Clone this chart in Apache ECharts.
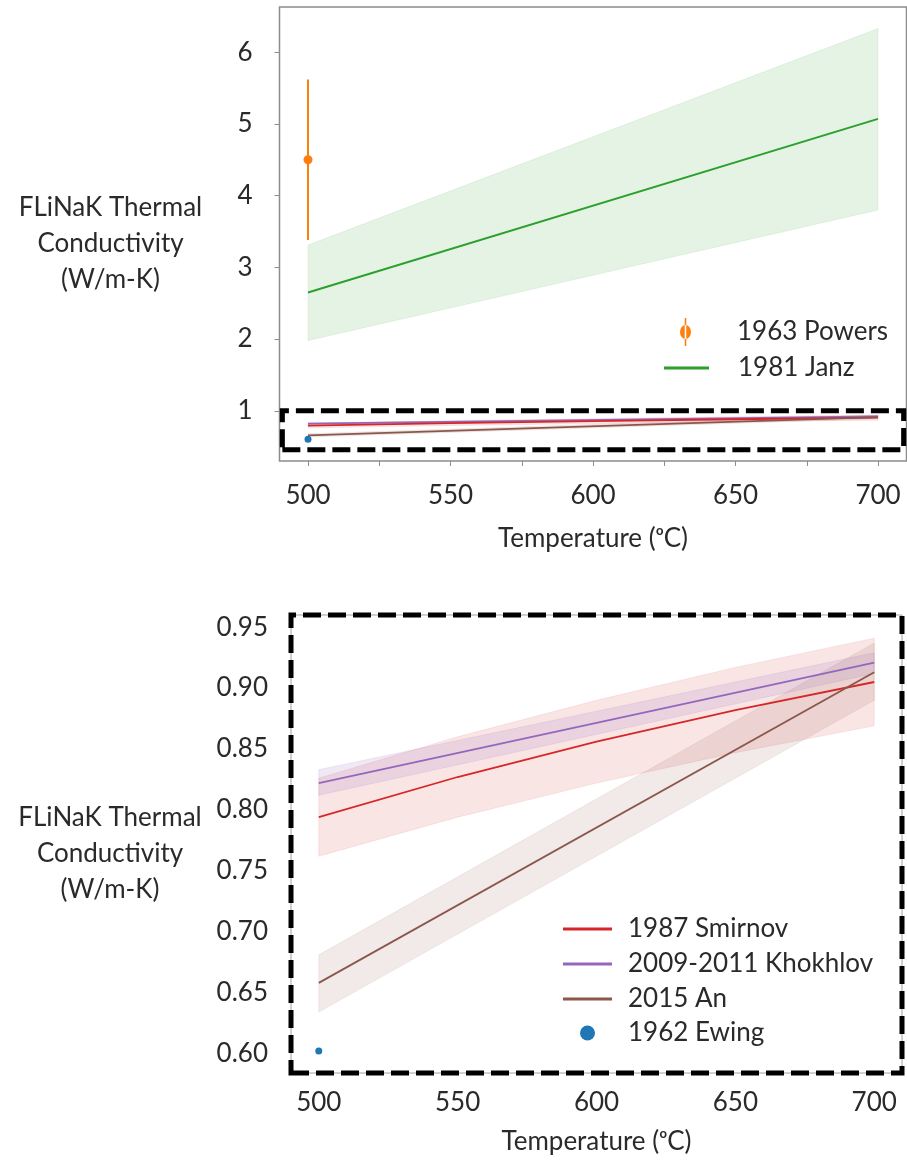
<!DOCTYPE html>
<html><head><meta charset="utf-8">
<script src="https://cdn.jsdelivr.net/npm/echarts@6/dist/echarts.min.js"></script>
<style>html,body{margin:0;padding:0;background:#fff}#c{width:907px;height:1161px}</style>
</head><body><div id="c"></div><script>
// ---- data ----
const TEMP_LINE = [500, 700];
const TEMP_SMIRNOV = [500, 550, 600, 650, 700];
const SMIRNOV = [0.794, 0.827, 0.856, 0.882, 0.905];
const SMIRNOV_LO = [0.762, 0.794, 0.822, 0.847, 0.869];
const SMIRNOV_HI = [0.826, 0.860, 0.890, 0.917, 0.941];
const KHOKHLOV = [0.822, 0.921];
const KHOKHLOV_LO = [0.812, 0.912];
const KHOKHLOV_HI = [0.833, 0.929];
const AN = [0.658, 0.913];
const AN_LO = [0.634, 0.890];
const AN_HI = [0.681, 0.937];
const JANZ = [2.65, 5.07];
const JANZ_LO = [1.98, 3.80];
const JANZ_HI = [3.31, 6.33];
const POWERS_T = [500];
const POWERS = [4.50];
const POWERS_LO = [3.38];
const POWERS_HI = [5.62];
const EWING_T = [500];
const EWING = [0.602];
const X_TICKS_TOP = [500, 525, 550, 575, 600, 625, 650, 675, 700];
const X_LABELS = [500, 550, 600, 650, 700];
const Y_TICKS_TOP = [1, 2, 3, 4, 5, 6];
const Y_TICKS_BOTTOM = [0.60, 0.65, 0.70, 0.75, 0.80, 0.85, 0.90, 0.95];
const ZOOM_BOX_T = [491, 709];
const ZOOM_BOX_K = [0.457, 1.0];
const NAME_SMIRNOV = '1987 Smirnov', NAME_KHOKHLOV = '2009-2011 Khokhlov', NAME_AN = '2015 An',
      NAME_EWING = '1962 Ewing', NAME_POWERS = '1963 Powers', NAME_JANZ = '1981 Janz';

// ---- styles ----
const FONT = 'Lato, "Open Sans", sans-serif';
const TXT = '#2a2a2a';
const C = {blue:'#1f77b4', orange:'#ff7f0e', green:'#2ca02c', red:'#d62728', purple:'#9467bd', brown:'#8c564b'};
function rgba(hex, a){const n=parseInt(hex.slice(1),16);return `rgba(${n>>16},${(n>>8)&255},${n&255},${a})`;}

function band(g, xs, lo, hi, color, alpha){
  return {type:'custom', xAxisIndex:g, yAxisIndex:g, silent:true, z:1, clip:true,
    data:[[xs[0], lo[0]]],
    renderItem:(p, api)=>{
      const top = xs.map((x,i)=>api.coord([x, hi[i]]));
      const bot = xs.map((x,i)=>api.coord([x, lo[i]])).reverse();
      return {type:'polygon', shape:{points:top.concat(bot)},
        style:{fill:rgba(color, alpha), stroke:rgba(color, alpha*0.8), lineWidth:1}};
    }};
}
function line(g, name, xs, ys, color, w){
  return {type:'line', name, xAxisIndex:g, yAxisIndex:g, z:3, symbol:'none', showSymbol:false,
    smooth:false, color, lineStyle:{color, width:w}, itemStyle:{color}, silent:true,
    data: xs.map((x,i)=>[x, ys[i]])};
}
function zoomBox(t, k){
  return {silent:true, label:{show:false}, emphasis:{disabled:true},
    itemStyle:{color:'rgba(0,0,0,0)', borderColor:'#000', borderWidth:5, borderType:[18,7]},
    data:[[{coord:[t[0], k[0]]},{coord:[t[1], k[1]]}]]};
}
function ewing(g, size, box){
  const s = {type:'scatter', name:NAME_EWING, xAxisIndex:g, yAxisIndex:g, z:4, symbolSize:size, clip:false,
    color:C.blue, itemStyle:{color:C.blue, opacity:1}, silent:true, data:EWING_T.map((x,i)=>[x, EWING[i]])};
  if (box) s.markArea = box;
  return s;
}

const POWERS_ICON = 'path://M5.2,0L6.8,0L6.8,28L5.2,28Z M0.5,14A5.5,7 0 1 0 11.5,14A5.5,7 0 1 0 0.5,14Z';

const textBase = {fontFamily:FONT, fontSize:26, color:TXT};
const yName = '{s|}\nFLiNaK Thermal\nConductivity\n(W/m-K)';
function yNameStyle(){
  return Object.assign({align:'center', verticalAlign:'middle', lineHeight:36,
    rich:{s:{lineHeight:20, fontSize:10}}}, textBase);
}

const option = {
  animation:false,
  backgroundColor:'#fff',
  grid:[
    {left:279.5, top:7, width:627, height:454, show:true, borderColor:'#8c8c8c', borderWidth:1.5},
    {left:291, top:615, width:611, height:458, show:true, borderColor:'#a0a0a0', borderWidth:1}
  ],
  xAxis:[
    {gridIndex:0, type:'value', min:490, max:710, axisLine:{show:false}, splitLine:{show:false},
     axisTick:{show:true, customValues:X_TICKS_TOP, length:5, lineStyle:{color:'#8c8c8c', width:1}},
     axisLabel:Object.assign({customValues:X_LABELS, margin:22}, textBase),
     name:'Temperature (ᵒC)', nameLocation:'middle', nameGap:65, nameTextStyle:Object.assign({}, textBase)},
    {gridIndex:1, type:'value', min:490, max:710, axisLine:{show:false}, splitLine:{show:false},
     axisTick:{show:false},
     axisLabel:Object.assign({customValues:X_LABELS, margin:17}, textBase),
     name:'Temperature (ᵒC)', nameLocation:'middle', nameGap:56, nameTextStyle:Object.assign({}, textBase)}
  ],
  yAxis:[
    {gridIndex:0, type:'value', min:0.30, max:6.63, axisLine:{show:false}, splitLine:{show:false},
     axisTick:{show:true, customValues:Y_TICKS_TOP, length:5, lineStyle:{color:'#8c8c8c', width:1}},
     axisLabel:Object.assign({customValues:Y_TICKS_TOP, margin:27}, textBase),
     name:yName, nameLocation:'middle', nameRotate:0, nameGap:169, nameTextStyle:yNameStyle()},
    {gridIndex:1, type:'value', min:0.584, max:0.960, axisLine:{show:false}, splitLine:{show:false},
     axisTick:{show:false},
     axisLabel:Object.assign({customValues:Y_TICKS_BOTTOM, margin:23, formatter:v=>v.toFixed(2)}, textBase),
     name:yName, nameLocation:'middle', nameRotate:0, nameGap:181, nameTextStyle:yNameStyle()}
  ],
  legend:[
    {left:680, top:317, padding:0, selectedMode:false, itemWidth:45, itemHeight:28,
     data:[{name:NAME_POWERS, icon:POWERS_ICON}], itemStyle:{opacity:1},
     textStyle:Object.assign({lineHeight:30, padding:[0,0,0,24]}, textBase)},
    {left:664, top:353, padding:0, selectedMode:false, itemWidth:45, itemHeight:3,
     data:[{name:NAME_JANZ, icon:'rect'}],
     textStyle:Object.assign({lineHeight:30, padding:[0,0,0,24]}, textBase)},
    {left:563, top:914, padding:0, orient:'vertical', itemGap:5, selectedMode:false, itemWidth:49, itemHeight:3,
     data:[{name:NAME_SMIRNOV, icon:'rect'},{name:NAME_KHOKHLOV, icon:'rect'},{name:NAME_AN, icon:'rect'}],
     textStyle:Object.assign({lineHeight:30, padding:[0,0,0,11]}, textBase)},
    {left:580, top:1018, padding:0, selectedMode:false, itemWidth:49, itemHeight:15,
     data:[{name:NAME_EWING, icon:'circle'}], itemStyle:{opacity:1},
     textStyle:Object.assign({lineHeight:30, padding:[0,0,0,11]}, textBase)}
  ],
  series:[
    // top chart
    band(0, TEMP_LINE, JANZ_LO, JANZ_HI, C.green, 0.12),
    band(0, TEMP_SMIRNOV, SMIRNOV_LO, SMIRNOV_HI, C.red, 0.12),
    band(0, TEMP_LINE, KHOKHLOV_LO, KHOKHLOV_HI, C.purple, 0.15),
    band(0, TEMP_LINE, AN_LO, AN_HI, C.brown, 0.12),
    line(0, NAME_JANZ, TEMP_LINE, JANZ, C.green, 2),
    line(0, NAME_KHOKHLOV, TEMP_LINE, KHOKHLOV, C.purple, 1.8),
    line(0, NAME_SMIRNOV, TEMP_SMIRNOV, SMIRNOV, C.red, 1.8),
    line(0, NAME_AN, TEMP_LINE, AN, C.brown, 1.8),
    ewing(0, 7, zoomBox(ZOOM_BOX_T, ZOOM_BOX_K)),
    {type:'custom', xAxisIndex:0, yAxisIndex:0, silent:true, z:4,
     data:POWERS_T.map((t,i)=>[t, POWERS_LO[i], POWERS_HI[i]]), encode:{x:0, y:[1,2]},
     renderItem:(p, api)=>{
       const a = api.coord([api.value(0), api.value(1)]);
       const b = api.coord([api.value(0), api.value(2)]);
       return {type:'line', shape:{x1:a[0], y1:a[1], x2:b[0], y2:b[1]}, style:{stroke:C.orange, lineWidth:2}};
     }},
    {type:'scatter', name:NAME_POWERS, xAxisIndex:0, yAxisIndex:0, z:5, symbolSize:9, silent:true,
     color:C.orange, itemStyle:{color:C.orange, opacity:1}, data:POWERS_T.map((t,i)=>[t, POWERS[i]])},
    // bottom chart
    band(1, TEMP_SMIRNOV, SMIRNOV_LO, SMIRNOV_HI, C.red, 0.12),
    band(1, TEMP_LINE, KHOKHLOV_LO, KHOKHLOV_HI, C.purple, 0.15),
    band(1, TEMP_LINE, AN_LO, AN_HI, C.brown, 0.12),
    line(1, NAME_SMIRNOV, TEMP_SMIRNOV, SMIRNOV, C.red, 1.8),
    line(1, NAME_KHOKHLOV, TEMP_LINE, KHOKHLOV, C.purple, 1.8),
    line(1, NAME_AN, TEMP_LINE, AN, C.brown, 1.8),
    ewing(1, 7, zoomBox([490, 710], [0.584, 0.960]))
  ]
};
const chart = echarts.init(document.getElementById('c'), null, {renderer:'canvas'});
chart.setOption(option);
</script></body></html>
